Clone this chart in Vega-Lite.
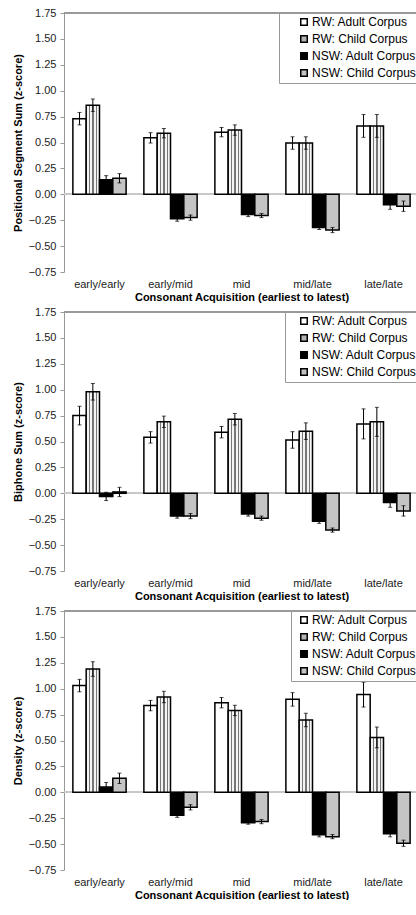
{
  "$schema": "https://vega.github.io/schema/vega-lite/v6.json",
  "padding": {"left": 12, "top": 7, "right": 0, "bottom": 0},
  "datasets": {
    "d": [
      {"p":"P","c":"early/early","s":"RW: Adult Corpus","v":0.73,"lo":0.67,"hi":0.79},
      {"p":"P","c":"early/early","s":"RW: Child Corpus","v":0.86,"lo":0.80,"hi":0.92},
      {"p":"P","c":"early/early","s":"NSW: Adult Corpus","v":0.14,"lo":0.10,"hi":0.18},
      {"p":"P","c":"early/early","s":"NSW: Child Corpus","v":0.155,"lo":0.11,"hi":0.20},
      {"p":"P","c":"early/mid","s":"RW: Adult Corpus","v":0.545,"lo":0.495,"hi":0.595},
      {"p":"P","c":"early/mid","s":"RW: Child Corpus","v":0.59,"lo":0.545,"hi":0.635},
      {"p":"P","c":"early/mid","s":"NSW: Adult Corpus","v":-0.235,"lo":-0.26,"hi":-0.21},
      {"p":"P","c":"early/mid","s":"NSW: Child Corpus","v":-0.225,"lo":-0.25,"hi":-0.20},
      {"p":"P","c":"mid","s":"RW: Adult Corpus","v":0.60,"lo":0.555,"hi":0.645},
      {"p":"P","c":"mid","s":"RW: Child Corpus","v":0.62,"lo":0.57,"hi":0.67},
      {"p":"P","c":"mid","s":"NSW: Adult Corpus","v":-0.195,"lo":-0.215,"hi":-0.175},
      {"p":"P","c":"mid","s":"NSW: Child Corpus","v":-0.205,"lo":-0.225,"hi":-0.185},
      {"p":"P","c":"mid/late","s":"RW: Adult Corpus","v":0.495,"lo":0.435,"hi":0.555},
      {"p":"P","c":"mid/late","s":"RW: Child Corpus","v":0.495,"lo":0.435,"hi":0.555},
      {"p":"P","c":"mid/late","s":"NSW: Adult Corpus","v":-0.32,"lo":-0.34,"hi":-0.30},
      {"p":"P","c":"mid/late","s":"NSW: Child Corpus","v":-0.345,"lo":-0.37,"hi":-0.32},
      {"p":"P","c":"late/late","s":"RW: Adult Corpus","v":0.66,"lo":0.55,"hi":0.77},
      {"p":"P","c":"late/late","s":"RW: Child Corpus","v":0.66,"lo":0.55,"hi":0.77},
      {"p":"P","c":"late/late","s":"NSW: Adult Corpus","v":-0.10,"lo":-0.145,"hi":-0.055},
      {"p":"P","c":"late/late","s":"NSW: Child Corpus","v":-0.115,"lo":-0.165,"hi":-0.065},

      {"p":"B","c":"early/early","s":"RW: Adult Corpus","v":0.75,"lo":0.66,"hi":0.84},
      {"p":"B","c":"early/early","s":"RW: Child Corpus","v":0.98,"lo":0.90,"hi":1.06},
      {"p":"B","c":"early/early","s":"NSW: Adult Corpus","v":-0.03,"lo":-0.07,"hi":0.01},
      {"p":"B","c":"early/early","s":"NSW: Child Corpus","v":0.013,"lo":-0.032,"hi":0.058},
      {"p":"B","c":"early/mid","s":"RW: Adult Corpus","v":0.54,"lo":0.485,"hi":0.595},
      {"p":"B","c":"early/mid","s":"RW: Child Corpus","v":0.69,"lo":0.635,"hi":0.745},
      {"p":"B","c":"early/mid","s":"NSW: Adult Corpus","v":-0.22,"lo":-0.24,"hi":-0.20},
      {"p":"B","c":"early/mid","s":"NSW: Child Corpus","v":-0.22,"lo":-0.245,"hi":-0.195},
      {"p":"B","c":"mid","s":"RW: Adult Corpus","v":0.59,"lo":0.535,"hi":0.645},
      {"p":"B","c":"mid","s":"RW: Child Corpus","v":0.715,"lo":0.66,"hi":0.77},
      {"p":"B","c":"mid","s":"NSW: Adult Corpus","v":-0.20,"lo":-0.22,"hi":-0.18},
      {"p":"B","c":"mid","s":"NSW: Child Corpus","v":-0.24,"lo":-0.26,"hi":-0.22},
      {"p":"B","c":"mid/late","s":"RW: Adult Corpus","v":0.515,"lo":0.435,"hi":0.595},
      {"p":"B","c":"mid/late","s":"RW: Child Corpus","v":0.60,"lo":0.52,"hi":0.68},
      {"p":"B","c":"mid/late","s":"NSW: Adult Corpus","v":-0.27,"lo":-0.29,"hi":-0.25},
      {"p":"B","c":"mid/late","s":"NSW: Child Corpus","v":-0.355,"lo":-0.375,"hi":-0.335},
      {"p":"B","c":"late/late","s":"RW: Adult Corpus","v":0.67,"lo":0.525,"hi":0.815},
      {"p":"B","c":"late/late","s":"RW: Child Corpus","v":0.69,"lo":0.55,"hi":0.83},
      {"p":"B","c":"late/late","s":"NSW: Adult Corpus","v":-0.09,"lo":-0.135,"hi":-0.045},
      {"p":"B","c":"late/late","s":"NSW: Child Corpus","v":-0.17,"lo":-0.22,"hi":-0.12},

      {"p":"D","c":"early/early","s":"RW: Adult Corpus","v":1.03,"lo":0.97,"hi":1.09},
      {"p":"D","c":"early/early","s":"RW: Child Corpus","v":1.19,"lo":1.12,"hi":1.26},
      {"p":"D","c":"early/early","s":"NSW: Adult Corpus","v":0.05,"lo":0.005,"hi":0.095},
      {"p":"D","c":"early/early","s":"NSW: Child Corpus","v":0.135,"lo":0.085,"hi":0.185},
      {"p":"D","c":"early/mid","s":"RW: Adult Corpus","v":0.837,"lo":0.787,"hi":0.887},
      {"p":"D","c":"early/mid","s":"RW: Child Corpus","v":0.92,"lo":0.865,"hi":0.975},
      {"p":"D","c":"early/mid","s":"NSW: Adult Corpus","v":-0.222,"lo":-0.242,"hi":-0.202},
      {"p":"D","c":"early/mid","s":"NSW: Child Corpus","v":-0.145,"lo":-0.17,"hi":-0.12},
      {"p":"D","c":"mid","s":"RW: Adult Corpus","v":0.865,"lo":0.815,"hi":0.915},
      {"p":"D","c":"mid","s":"RW: Child Corpus","v":0.79,"lo":0.74,"hi":0.84},
      {"p":"D","c":"mid","s":"NSW: Adult Corpus","v":-0.293,"lo":-0.308,"hi":-0.278},
      {"p":"D","c":"mid","s":"NSW: Child Corpus","v":-0.283,"lo":-0.303,"hi":-0.263},
      {"p":"D","c":"mid/late","s":"RW: Adult Corpus","v":0.897,"lo":0.832,"hi":0.962},
      {"p":"D","c":"mid/late","s":"RW: Child Corpus","v":0.698,"lo":0.633,"hi":0.763},
      {"p":"D","c":"mid/late","s":"NSW: Adult Corpus","v":-0.41,"lo":-0.43,"hi":-0.39},
      {"p":"D","c":"mid/late","s":"NSW: Child Corpus","v":-0.428,"lo":-0.448,"hi":-0.408},
      {"p":"D","c":"late/late","s":"RW: Adult Corpus","v":0.943,"lo":0.823,"hi":1.063},
      {"p":"D","c":"late/late","s":"RW: Child Corpus","v":0.53,"lo":0.43,"hi":0.63},
      {"p":"D","c":"late/late","s":"NSW: Adult Corpus","v":-0.40,"lo":-0.43,"hi":-0.37},
      {"p":"D","c":"late/late","s":"NSW: Child Corpus","v":-0.492,"lo":-0.522,"hi":-0.462}
    ]
  },
  "data": {"name": "d"},
  "spacing": 4,
  "resolve": {"scale": {"fill": "independent"}, "legend": {"fill": "independent"}},
  "vconcat": [
    {
      "width": 355, "height": 259,
      "transform": [{"filter": "datum.p === 'P'"}],
      "layer": [
        {"mark": {"type": "rule", "color": "#c8c8c8", "strokeWidth": 1}, "encoding": {"y": {"datum": 0, "type": "quantitative", "title": "Positional Segment Sum (z-score)", "scale": {"domain": [-0.75, 1.75], "nice": false, "zero": false}, "axis": {"values": [-0.75,-0.5,-0.25,0,0.25,0.5,0.75,1,1.25,1.5,1.75], "format": ".2f", "labelOverlap": false}}}},
        {"mark": {"type": "rule", "color": "#999999", "strokeWidth": 1}, "encoding": {"y": {"datum": 1.75, "type": "quantitative", "title": "Positional Segment Sum (z-score)", "axis": {"values": [-0.75,-0.5,-0.25,0,0.25,0.5,0.75,1,1.25,1.5,1.75], "format": ".2f", "labelOverlap": false}}}},
        {
          "encoding": {
            "x": {"field": "c", "type": "nominal", "sort": ["early/early","early/mid","mid","mid/late","late/late"], "scale": {"paddingInner": 0.25, "paddingOuter": 0.125}, "title": "Consonant Acquisition (earliest to latest)"},
            "xOffset": {"field": "s", "type": "nominal", "sort": ["RW: Adult Corpus","RW: Child Corpus","NSW: Adult Corpus","NSW: Child Corpus"], "scale": {"paddingInner": 0, "paddingOuter": 0}},
            "y": {"field": "v", "type": "quantitative", "title": "Positional Segment Sum (z-score)", "axis": {"values": [-0.75,-0.5,-0.25,0,0.25,0.5,0.75,1,1.25,1.5,1.75], "format": ".2f", "labelOverlap": false}}
          },
          "layer": [
            {
              "mark": {"type": "bar", "stroke": "#000000", "strokeWidth": 1.5},
              "encoding": {
                "fill": {"field": "s", "type": "nominal", "sort": ["RW: Adult Corpus","RW: Child Corpus","NSW: Adult Corpus","NSW: Child Corpus"],
                  "condition": {"test": "datum.s === 'RW: Child Corpus'", "value": {"gradient": "linear", "x1": 0, "y1": 0, "x2": 1, "y2": 0, "stops": [{"offset": 0, "color": "#f4f4f4"}, {"offset": 0.2, "color": "#f4f4f4"}, {"offset": 0.2, "color": "#777777"}, {"offset": 0.3, "color": "#777777"}, {"offset": 0.3, "color": "#f4f4f4"}, {"offset": 0.45, "color": "#f4f4f4"}, {"offset": 0.45, "color": "#777777"}, {"offset": 0.55, "color": "#777777"}, {"offset": 0.55, "color": "#f4f4f4"}, {"offset": 0.7, "color": "#f4f4f4"}, {"offset": 0.7, "color": "#777777"}, {"offset": 0.8, "color": "#777777"}, {"offset": 0.8, "color": "#f4f4f4"}, {"offset": 1, "color": "#f4f4f4"}]}},
                  "scale": {"domain": ["RW: Adult Corpus","RW: Child Corpus","NSW: Adult Corpus","NSW: Child Corpus"], "range": ["#ffffff", "#b4b4b4", "#000000", "#c4c4c4"]},
                  "legend": {"title": null, "orient": "top-right", "offset": 0, "symbolOffset": 16}}
              }
            },
            {"mark": {"type": "rule", "color": "#000000", "strokeWidth": 1}, "encoding": {"y": {"field": "lo", "type": "quantitative", "title": "Positional Segment Sum (z-score)"}, "y2": {"field": "hi"}}},
            {"mark": {"type": "tick", "color": "#000000", "size": 4, "thickness": 1, "orient": "horizontal"}, "encoding": {"y": {"field": "lo", "type": "quantitative", "title": "Positional Segment Sum (z-score)"}}},
            {"mark": {"type": "tick", "color": "#000000", "size": 4, "thickness": 1, "orient": "horizontal"}, "encoding": {"y": {"field": "hi", "type": "quantitative", "title": "Positional Segment Sum (z-score)"}}}
          ]
        }
      ]
    },
    {
      "width": 355, "height": 259,
      "transform": [{"filter": "datum.p === 'B'"}],
      "layer": [
        {"mark": {"type": "rule", "color": "#c8c8c8", "strokeWidth": 1}, "encoding": {"y": {"datum": 0, "type": "quantitative", "title": "Biphone Sum (z-score)", "scale": {"domain": [-0.75, 1.75], "nice": false, "zero": false}, "axis": {"values": [-0.75,-0.5,-0.25,0,0.25,0.5,0.75,1,1.25,1.5,1.75], "format": ".2f", "labelOverlap": false}}}},
        {"mark": {"type": "rule", "color": "#999999", "strokeWidth": 1}, "encoding": {"y": {"datum": 1.75, "type": "quantitative", "title": "Biphone Sum (z-score)", "axis": {"values": [-0.75,-0.5,-0.25,0,0.25,0.5,0.75,1,1.25,1.5,1.75], "format": ".2f", "labelOverlap": false}}}},
        {
          "encoding": {
            "x": {"field": "c", "type": "nominal", "sort": ["early/early","early/mid","mid","mid/late","late/late"], "scale": {"paddingInner": 0.25, "paddingOuter": 0.125}, "title": "Consonant Acquisition (earliest to latest)"},
            "xOffset": {"field": "s", "type": "nominal", "sort": ["RW: Adult Corpus","RW: Child Corpus","NSW: Adult Corpus","NSW: Child Corpus"], "scale": {"paddingInner": 0, "paddingOuter": 0}},
            "y": {"field": "v", "type": "quantitative", "title": "Biphone Sum (z-score)", "axis": {"values": [-0.75,-0.5,-0.25,0,0.25,0.5,0.75,1,1.25,1.5,1.75], "format": ".2f", "labelOverlap": false}}
          },
          "layer": [
            {
              "mark": {"type": "bar", "stroke": "#000000", "strokeWidth": 1.5},
              "encoding": {
                "fill": {"field": "s", "type": "nominal", "sort": ["RW: Adult Corpus","RW: Child Corpus","NSW: Adult Corpus","NSW: Child Corpus"],
                  "condition": {"test": "datum.s === 'RW: Child Corpus'", "value": {"gradient": "linear", "x1": 0, "y1": 0, "x2": 1, "y2": 0, "stops": [{"offset": 0, "color": "#f4f4f4"}, {"offset": 0.2, "color": "#f4f4f4"}, {"offset": 0.2, "color": "#777777"}, {"offset": 0.3, "color": "#777777"}, {"offset": 0.3, "color": "#f4f4f4"}, {"offset": 0.45, "color": "#f4f4f4"}, {"offset": 0.45, "color": "#777777"}, {"offset": 0.55, "color": "#777777"}, {"offset": 0.55, "color": "#f4f4f4"}, {"offset": 0.7, "color": "#f4f4f4"}, {"offset": 0.7, "color": "#777777"}, {"offset": 0.8, "color": "#777777"}, {"offset": 0.8, "color": "#f4f4f4"}, {"offset": 1, "color": "#f4f4f4"}]}},
                  "scale": {"domain": ["RW: Adult Corpus","RW: Child Corpus","NSW: Adult Corpus","NSW: Child Corpus"], "range": ["#ffffff", "#b4b4b4", "#000000", "#c4c4c4"]},
                  "legend": {"title": null, "orient": "top-right", "offset": 0, "symbolOffset": 10}}
              }
            },
            {"mark": {"type": "rule", "color": "#000000", "strokeWidth": 1}, "encoding": {"y": {"field": "lo", "type": "quantitative", "title": "Biphone Sum (z-score)"}, "y2": {"field": "hi"}}},
            {"mark": {"type": "tick", "color": "#000000", "size": 4, "thickness": 1, "orient": "horizontal"}, "encoding": {"y": {"field": "lo", "type": "quantitative", "title": "Biphone Sum (z-score)"}}},
            {"mark": {"type": "tick", "color": "#000000", "size": 4, "thickness": 1, "orient": "horizontal"}, "encoding": {"y": {"field": "hi", "type": "quantitative", "title": "Biphone Sum (z-score)"}}}
          ]
        }
      ]
    },
    {
      "width": 355, "height": 259,
      "transform": [{"filter": "datum.p === 'D'"}],
      "layer": [
        {"mark": {"type": "rule", "color": "#c8c8c8", "strokeWidth": 1}, "encoding": {"y": {"datum": 0, "type": "quantitative", "title": "Density (z-score)", "scale": {"domain": [-0.75, 1.75], "nice": false, "zero": false}, "axis": {"values": [-0.75,-0.5,-0.25,0,0.25,0.5,0.75,1,1.25,1.5,1.75], "format": ".2f", "labelOverlap": false}}}},
        {"mark": {"type": "rule", "color": "#999999", "strokeWidth": 1}, "encoding": {"y": {"datum": 1.75, "type": "quantitative", "title": "Density (z-score)", "axis": {"values": [-0.75,-0.5,-0.25,0,0.25,0.5,0.75,1,1.25,1.5,1.75], "format": ".2f", "labelOverlap": false}}}},
        {
          "encoding": {
            "x": {"field": "c", "type": "nominal", "sort": ["early/early","early/mid","mid","mid/late","late/late"], "scale": {"paddingInner": 0.25, "paddingOuter": 0.125}, "title": "Consonant Acquisition (earliest to latest)"},
            "xOffset": {"field": "s", "type": "nominal", "sort": ["RW: Adult Corpus","RW: Child Corpus","NSW: Adult Corpus","NSW: Child Corpus"], "scale": {"paddingInner": 0, "paddingOuter": 0}},
            "y": {"field": "v", "type": "quantitative", "title": "Density (z-score)", "axis": {"values": [-0.75,-0.5,-0.25,0,0.25,0.5,0.75,1,1.25,1.5,1.75], "format": ".2f", "labelOverlap": false}}
          },
          "layer": [
            {
              "mark": {"type": "bar", "stroke": "#000000", "strokeWidth": 1.5},
              "encoding": {
                "fill": {"field": "s", "type": "nominal", "sort": ["RW: Adult Corpus","RW: Child Corpus","NSW: Adult Corpus","NSW: Child Corpus"],
                  "condition": {"test": "datum.s === 'RW: Child Corpus'", "value": {"gradient": "linear", "x1": 0, "y1": 0, "x2": 1, "y2": 0, "stops": [{"offset": 0, "color": "#f4f4f4"}, {"offset": 0.2, "color": "#f4f4f4"}, {"offset": 0.2, "color": "#777777"}, {"offset": 0.3, "color": "#777777"}, {"offset": 0.3, "color": "#f4f4f4"}, {"offset": 0.45, "color": "#f4f4f4"}, {"offset": 0.45, "color": "#777777"}, {"offset": 0.55, "color": "#777777"}, {"offset": 0.55, "color": "#f4f4f4"}, {"offset": 0.7, "color": "#f4f4f4"}, {"offset": 0.7, "color": "#777777"}, {"offset": 0.8, "color": "#777777"}, {"offset": 0.8, "color": "#f4f4f4"}, {"offset": 1, "color": "#f4f4f4"}]}},
                  "scale": {"domain": ["RW: Adult Corpus","RW: Child Corpus","NSW: Adult Corpus","NSW: Child Corpus"], "range": ["#ffffff", "#b4b4b4", "#000000", "#c4c4c4"]},
                  "legend": {"title": null, "orient": "top-right", "offset": 0, "symbolOffset": 4}}
              }
            },
            {"mark": {"type": "rule", "color": "#000000", "strokeWidth": 1}, "encoding": {"y": {"field": "lo", "type": "quantitative", "title": "Density (z-score)"}, "y2": {"field": "hi"}}},
            {"mark": {"type": "tick", "color": "#000000", "size": 4, "thickness": 1, "orient": "horizontal"}, "encoding": {"y": {"field": "lo", "type": "quantitative", "title": "Density (z-score)"}}},
            {"mark": {"type": "tick", "color": "#000000", "size": 4, "thickness": 1, "orient": "horizontal"}, "encoding": {"y": {"field": "hi", "type": "quantitative", "title": "Density (z-score)"}}}
          ]
        }
      ]
    }
  ],
  "config": {
    "font": "Liberation Sans",
    "view": {"stroke": null},
    "axis": {"labelFontSize": 11, "labelColor": "#222222", "titleFontSize": 11, "titleFontWeight": "bold", "titleColor": "#000000", "grid": false},
    "axisY": {"domainColor": "#999999", "tickColor": "#999999", "tickSize": 4, "labelPadding": 4, "titlePadding": 5, "labelOverlap": false, "labelFlush": false},
    "axisX": {"domain": false, "ticks": false, "labelAngle": 0, "labelPadding": 6, "titlePadding": 2},
    "legend": {"fillColor": "#ffffff", "strokeColor": "#999999", "padding": 3, "labelFontSize": 12, "labelColor": "#000000", "symbolType": "square", "symbolSize": 42, "symbolStrokeColor": "#000000", "symbolStrokeWidth": 1.5, "rowPadding": 3, "labelOffset": 2, "labelLimit": 200}
  }
}
